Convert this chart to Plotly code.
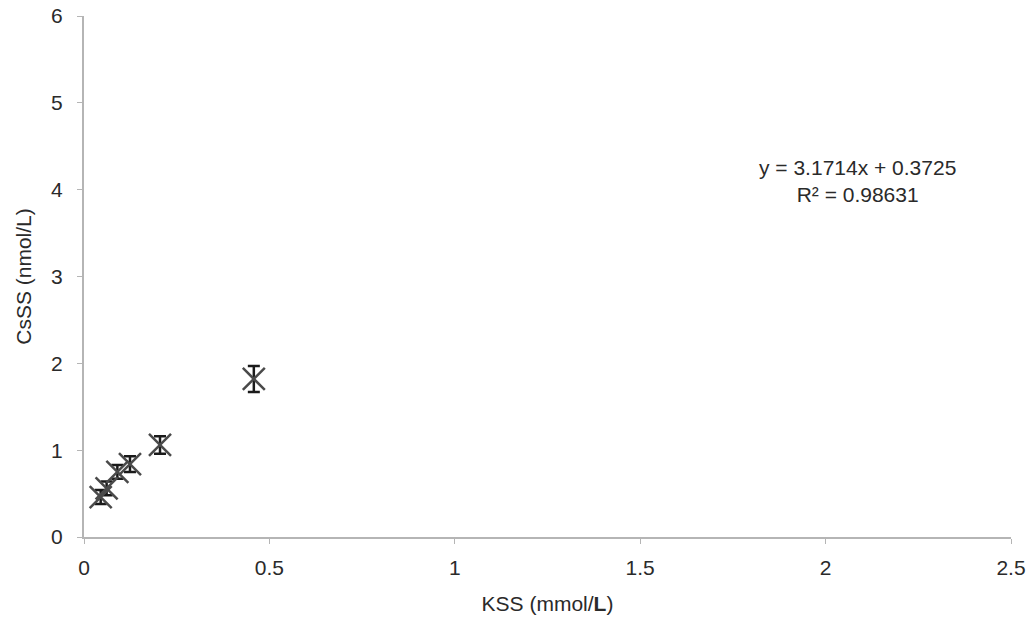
import plotly.graph_objects as go

kss = [0.045, 0.061, 0.090, 0.124, 0.205, 0.458]
csss = [0.46, 0.56, 0.75, 0.84, 1.06, 1.82]
err = [0.08, 0.08, 0.08, 0.09, 0.10, 0.15]

x_ticks = [0, 0.5, 1, 1.5, 2, 2.5]
x_ticklabels = ["0", "0.5", "1", "1.5", "2", "2.5"]
y_ticks = [0, 1, 2, 3, 4, 5, 6]

eq_text = "y = 3.1714x + 0.3725<br>R² = 0.98631"

fig = go.Figure()
fig.add_trace(go.Scatter(
    x=kss, y=csss, mode="markers",
    marker=dict(symbol="x-thin", size=22, color="#4a4a4a", line=dict(width=2.5, color="#4a4a4a")),
    error_y=dict(type="data", array=err, visible=True, color="#1a1a1a", thickness=2.5, width=6),
    showlegend=False,
))

font = dict(family="Liberation Sans, Arial, sans-serif", size=21, color="#2a2a2a")

fig.update_layout(
    width=1032, height=619,
    margin=dict(l=84, r=21, t=16, b=82),
    paper_bgcolor="white", plot_bgcolor="white",
    font=font,
    xaxis=dict(
        range=[0, 2.5], tickvals=x_ticks, ticktext=x_ticklabels,
        showgrid=False, zeroline=False, showline=True, linecolor="#b5b5b5", linewidth=2,
        ticks="outside", ticklen=5, tickcolor="#b5b5b5", tickwidth=1,
        ticklabelstandoff=6, automargin=False,
        title=dict(text="KSS (mmol/<b>L</b>)", font=font, standoff=18),
    ),
    yaxis=dict(
        range=[0, 6], tickvals=y_ticks,
        showgrid=False, zeroline=False, showline=True, linecolor="#b5b5b5", linewidth=2,
        ticks="outside", ticklen=5, tickcolor="#b5b5b5", tickwidth=1,
        ticklabelstandoff=10, automargin=False,
        title=dict(text="CsSS (nmol/L)", font=font, standoff=14),
    ),
    annotations=[dict(
        x=2.085, y=4.1, xref="x", yref="y", text=eq_text, showarrow=False,
        font=dict(family="Liberation Sans, Arial, sans-serif", size=21, color="#2a2a2a"),
        align="center",
    )],
)

fig.write_html("out.html")
